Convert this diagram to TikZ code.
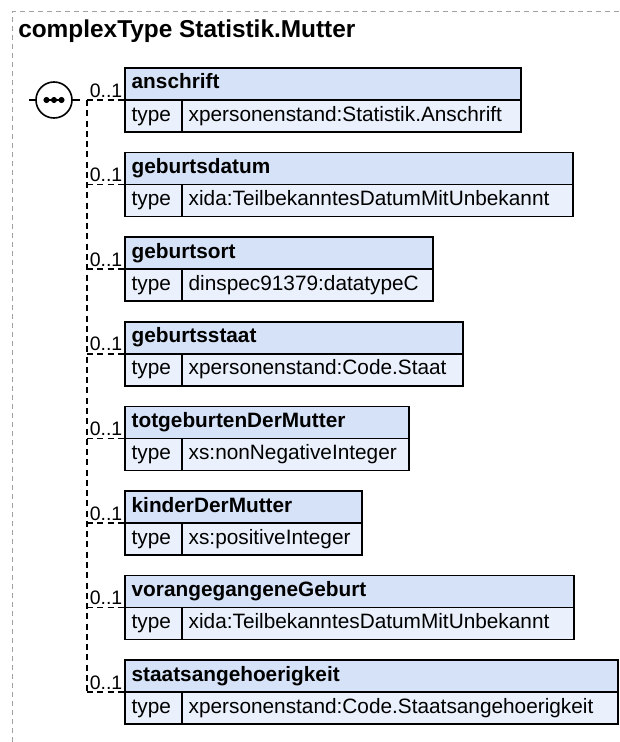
\documentclass[tikz,border=0pt]{standalone}
\usepackage{fontspec}
\setmainfont{Liberation Sans}
\definecolor{hdfill}{RGB}{214,226,247}
\definecolor{rwfill}{RGB}{234,241,252}
\definecolor{framegray}{RGB}{160,160,160}
\begin{document}
\begin{tikzpicture}[x=.75pt,y=-.75pt,
	cell/.style={draw,line width=1.1pt,anchor=north west,outer sep=0pt,inner xsep=5pt,inner ysep=0pt,minimum height=24pt,text height=11pt,text depth=3.5pt,font=\fontsize{15.6}{18}\selectfont},
	hd/.style={cell,fill=hdfill,font=\fontsize{15.6}{18}\selectfont\bfseries},
	rw/.style={cell,fill=rwfill},
	conn/.style={line width=1.1pt,dash pattern=on 4.5pt off 3.2pt},
	occ/.style={anchor=south east,inner sep=1.5pt,font=\fontsize{14.6}{17}\selectfont}]
	\useasboundingbox (0,0) rectangle (619,742);
	% frame and title
	\path (12,742) coordinate (F1) (12,12) coordinate (F2) (619,12) coordinate (F3);
	\draw[framegray,line width=.75pt,dash pattern=on 3.75pt off 3pt] (F1)--(F2)--(F3);
	\node[anchor=base west,inner sep=0pt,font=\fontsize{18.3}{22}\selectfont\bfseries] (title) at (18,38) {complexType Statistik.Mutter};
	% sequence
	\coordinate (in) at (29,100);
	\coordinate (j) at (87,100);
	\node[circle,draw,fill=white,line width=1.2pt,outer sep=0pt,minimum size=27pt,inner sep=0pt] (seq) at (54,100) {};
	\draw[line width=1.1pt] (in)--(seq.west);
	\draw[line width=1.1pt,dash pattern=on 6pt off 5.25pt] (seq.east)--(j);
	\draw[line width=1.2pt] (seq.center) ++(-8,0) -- ++(16,0);
	\foreach \d in {-7.5,0,7.5} \fill (seq.center) ++(\d,0) circle (2.3pt);
	% elements
	\foreach \nm/\ty/\rx [count=\i from 0] in {anschrift/xpersonenstand:Statistik.Anschrift/521,
		geburtsdatum/xida:TeilbekanntesDatumMitUnbekannt/573,
		geburtsort/dinspec91379:datatypeC/433,
		geburtsstaat/xpersonenstand:Code.Staat/463,
		totgeburtenDerMutter/xs:nonNegativeInteger/409,
		kinderDerMutter/xs:positiveInteger/362,
		vorangegangeneGeburt/xida:TeilbekanntesDatumMitUnbekannt/574,
		staatsangehoerigkeit/xpersonenstand:Code.Staatsangehoerigkeit/618}{
		\pgfmathsetmacro\hw{(\rx-125)*.75-10}
		\pgfmathsetmacro\vw{(\rx-182)*.75-10}
		\node[hd] (h\i) at (125,{68+84.6*\i}) {\makebox[\hw pt][l]{\nm}};
		\node[rw] (t\i) at (h\i.south west) {\makebox[32.75pt][l]{type}};
		\node[rw] (v\i) at (t\i.north east) {\makebox[\vw pt][l]{\ty}};
		\draw[conn] (j |- h\i.south west) -- (h\i.south west) node[occ] (m\i) {0..1};
	}
	\draw[conn] (j)--(j |- h7.south west);
\end{tikzpicture}
\end{document}
